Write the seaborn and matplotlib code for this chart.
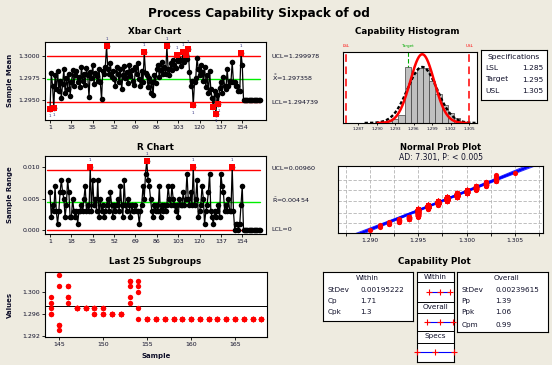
import matplotlib
matplotlib.use("Agg")
import matplotlib.pyplot as plt
import numpy as np
import pandas as pd
import seaborn as sns
from statistics import NormalDist

W, H = 552, 365
BG = "#EEEBE0"
INK = "#10102a"

# ---- values ----
xbar = [
    1.2940, 1.2981, 1.2966, 1.2941, 1.2978, 1.2962, 1.2983, 1.2960, 1.2972, 1.2952,
    1.2968, 1.2985, 1.2958, 1.2975, 1.2963, 1.2980, 1.2955, 1.2970, 1.2984, 1.2966,
    1.2978, 1.2983, 1.2970, 1.2976, 1.2965, 1.2988, 1.2972, 1.2980, 1.2967, 1.2986,
    1.2978, 1.2953, 1.2982, 1.2975, 1.2990, 1.2968, 1.2981, 1.2977, 1.2972, 1.2985,
    1.2970, 1.2951, 1.2983, 1.2979, 1.2988, 1.3011, 1.2985, 1.2980, 1.2992, 1.2976,
    1.2983, 1.2974, 1.2966, 1.2987, 1.2979, 1.2971, 1.2985, 1.2962, 1.2978, 1.2989,
    1.2975, 1.2982, 1.2969, 1.2990, 1.2977, 1.2984, 1.2972, 1.2967, 1.2987, 1.2980,
    1.2992, 1.2974, 1.2966, 1.2983, 1.2970, 1.3004, 1.2981, 1.2978, 1.2965, 1.2975,
    1.2958, 1.2971, 1.2956, 1.2978, 1.2969, 1.2985, 1.2990, 1.2976, 1.2984, 1.2993,
    1.2980, 1.2987, 1.2979, 1.3011, 1.2985, 1.2978, 1.2992, 1.2984, 1.2996, 1.2990,
    1.2986, 1.3001, 1.2994, 1.2997, 1.2989, 1.2995, 1.3004, 1.2993, 1.3001, 1.2997,
    1.3008, 1.2982, 1.2966, 1.2972, 1.2944, 1.2970, 1.2975, 1.2998, 1.2985, 1.2978,
    1.2990, 1.2982, 1.2972, 1.2987, 1.2965, 1.2978, 1.2958, 1.2983, 1.2962, 1.2952,
    1.2942, 1.2960, 1.2934, 1.2956, 1.2946, 1.2964, 1.2970, 1.2958, 1.2976, 1.2966,
    1.2962, 1.2985, 1.2966, 1.2972, 1.2970, 1.2993, 1.2970, 1.2970, 1.2966, 1.2966,
    1.2960, 1.2960, 1.3003, 1.2990, 1.2950, 1.2950, 1.2950, 1.2950, 1.2950, 1.2950,
    1.2950, 1.2950, 1.2950, 1.2950, 1.2950, 1.2950, 1.2950, 1.2950,
]
ranges = [
    0.006, 0.002, 0.004, 0.003, 0.007, 0.003, 0.001, 0.003, 0.006, 0.008,
    0.006, 0.005, 0.002, 0.004, 0.008, 0.006, 0.002, 0.002, 0.005, 0.003,
    0.002, 0.003, 0.001, 0.003, 0.003, 0.004, 0.003, 0.005, 0.007, 0.003,
    0.004, 0.003, 0.010, 0.003, 0.008, 0.004, 0.005, 0.003, 0.008, 0.002,
    0.005, 0.003, 0.004, 0.002, 0.003, 0.004, 0.005, 0.003, 0.006, 0.004,
    0.002, 0.004, 0.003, 0.004, 0.005, 0.003, 0.007, 0.004, 0.002, 0.008,
    0.004, 0.003, 0.005, 0.004, 0.002, 0.004, 0.003, 0.003, 0.004, 0.003,
    0.003, 0.001, 0.003, 0.004, 0.007, 0.005, 0.009, 0.011, 0.008, 0.007,
    0.005, 0.003, 0.002, 0.004, 0.003, 0.004, 0.003, 0.007, 0.002, 0.004,
    0.003, 0.004, 0.003, 0.004, 0.007, 0.005, 0.004, 0.007, 0.005, 0.004,
    0.003, 0.004, 0.002, 0.005, 0.004, 0.004, 0.006, 0.004, 0.005, 0.009,
    0.005, 0.004, 0.006, 0.004, 0.010, 0.004, 0.005, 0.008, 0.002, 0.003,
    0.004, 0.007, 0.005, 0.001, 0.003, 0.004, 0.006, 0.009, 0.003, 0.002,
    0.001, 0.003, 0.002, 0.003, 0.004, 0.002, 0.009, 0.007, 0.006, 0.003,
    0.004, 0.003, 0.005, 0.003, 0.003, 0.010, 0.003, 0.000, 0.001, 0.001,
    0.000, 0.001, 0.004, 0.007, 0.000, 0.000, 0.000, 0.000, 0.000, 0.000,
    0.000, 0.000, 0.000, 0.000, 0.000, 0.000, 0.000, 0.000,
]
subgroups = np.arange(1, len(xbar) + 1)

XBAR_UCL, XBAR_CL, XBAR_LCL = 1.299978, 1.297358, 1.294739
R_UCL, R_CL, R_LCL = 0.00960, 0.00454, 0.0

LSL, TARGET, USL = 1.285, 1.295, 1.305
MEAN = 1.297358
SD_WITHIN, SD_OVERALL = 0.00195222, 0.00239615
CP, CPK = 1.71, 1.3
PP, PPK, CPM = 1.39, 1.06, 0.99
AD, P_TEXT = 7.301, "< 0.005"

# individual measurements, grouped by value (histogram / probability plot)
hist_values = [1.290, 1.291, 1.292, 1.293, 1.294, 1.295, 1.296, 1.297,
               1.298, 1.299, 1.300, 1.301, 1.302, 1.303, 1.305]
hist_counts = [1, 3, 5, 10, 18, 129, 115, 126, 126, 97, 67, 42, 23, 11, 1]

last25 = {
    144: [1.299, 1.298, 1.297, 1.296, 1.296],
    145: [1.303, 1.301, 1.294, 1.293, 1.294],
    146: [1.301, 1.299, 1.298, 1.299, 1.301],
    147: [1.297] * 5,
    148: [1.297] * 5,
    149: [1.297, 1.296, 1.297, 1.296, 1.297],
    150: [1.297, 1.296, 1.296, 1.297, 1.296],
    151: [1.296] * 5,
    152: [1.296] * 5,
    153: [1.302, 1.301, 1.299, 1.298, 1.302],
    154: [1.302, 1.301, 1.300, 1.297, 1.295],
}
for k in range(155, 169):
    last25[k] = [1.295] * 5

sns.set_theme(style="white")
plt.rcParams["font.family"] = ["DejaVu Sans"]
plt.rcParams["axes.edgecolor"] = "black"
plt.rcParams["axes.linewidth"] = 0.8

fig = plt.figure(figsize=(W / 100, H / 100), dpi=100, facecolor=BG)


def px_axes(x0, y0, x1, y1):
    return fig.add_axes([x0 / W, 1 - y1 / H, (x1 - x0) / W, (y1 - y0) / H])


def ftext(x, y, s, **kw):
    kw.setdefault("color", INK)
    kw.setdefault("va", "center")
    fig.text(x / W, 1 - y / H, s, **kw)


def style_ticks(ax, size=4.5):
    ax.tick_params(bottom=True, left=True, labelsize=size, length=2.2, width=0.6,
                   pad=1.2, colors="black", labelcolor=INK)
    ax.set_xlabel("")
    ax.set_ylabel("")


def control_series(ax, df, col):
    sns.lineplot(data=df, x="subgroup", y=col, ax=ax, color="black", lw=0.9,
                 errorbar=None, zorder=2)
    sns.scatterplot(data=df, x="subgroup", y=col, ax=ax, color="black", s=16,
                    linewidth=0, zorder=3, legend=False)


def mark_ooc(ax, df, col, ucl, lcl):
    ooc = df[(df[col] > ucl) | (df[col] < lcl)]
    sns.scatterplot(data=ooc, x="subgroup", y=col, marker="s", color="red", s=18,
                    linewidth=0, zorder=4, ax=ax, legend=False)
    for _, row in ooc.iterrows():
        off = 5.2 if row[col] > ucl else -5.2
        ax.annotate("1", (row["subgroup"], row[col]), xytext=(0, off),
                    textcoords="offset points", fontsize=3, color="#303080",
                    ha="center", va="center", annotation_clip=False)


# ---- title ----
ftext(259, 14, "Process Capability Sixpack of od", ha="center", fontsize=8.7,
      fontweight="bold", color="black")

xticks = np.arange(1, 155, 17)

# ---- Xbar chart ----
ax = px_axes(44.5, 42, 266, 120)
xb = pd.DataFrame({"subgroup": subgroups, "mean": xbar})
for y, c in [(XBAR_UCL, "red"), (XBAR_CL, "#00ee00"), (XBAR_LCL, "red")]:
    ax.axhline(y, xmin=0.01, xmax=0.975, color=c, lw=1.0, zorder=1)
control_series(ax, xb, "mean")
mark_ooc(ax, xb, "mean", XBAR_UCL, XBAR_LCL)
ax.set_xlim(-3.4, 172.9)
ax.set_ylim(1.29273, 1.30159)
ax.set_xticks(xticks)
ax.set_yticks([1.2950, 1.2975, 1.3000])
ax.set_yticklabels([f"{v:.4f}" for v in [1.2950, 1.2975, 1.3000]])
style_ticks(ax)
ftext(155, 32, "Xbar Chart", ha="center", fontsize=6.3, fontweight="bold", color="black")
ftext(10, 80, "Sample Mean", ha="center", rotation=90, fontsize=5, fontweight="bold")
ftext(271.5, 56, f"UCL={XBAR_UCL:.6f}", fontsize=4.6)
ftext(271.5, 78, r"$\bar{\bar{\mathrm{X}}}$" + f"={XBAR_CL:.6f}", fontsize=4.6)
ftext(271.5, 102, f"LCL={XBAR_LCL:.6f}", fontsize=4.6)

# ---- R chart ----
ax = px_axes(44.5, 156, 266, 234)
rc = pd.DataFrame({"subgroup": subgroups, "range": ranges})
for y, c in [(R_UCL, "red"), (R_CL, "#00ee00"), (R_LCL, "red")]:
    ax.axhline(y, xmin=0.01, xmax=0.975, color=c, lw=1.0, zorder=1)
control_series(ax, rc, "range")
mark_ooc(ax, rc, "range", R_UCL, -1)
ax.set_xlim(-3.4, 172.9)
ax.set_ylim(-0.00064, 0.0118)
ax.set_xticks(xticks)
ax.set_yticks([0.0, 0.005, 0.010])
ax.set_yticklabels(["0.000", "0.005", "0.010"])
style_ticks(ax)
ftext(155, 148, "R Chart", ha="center", fontsize=6.3, fontweight="bold", color="black")
ftext(10, 195, "Sample Range", ha="center", rotation=90, fontsize=5, fontweight="bold")
ftext(271.5, 169, f"UCL={R_UCL:.5f}", fontsize=4.6)
ftext(271.5, 200, r"$\bar{\mathrm{R}}$" + f"={R_CL:.5f}", fontsize=4.6)
ftext(271.5, 229.5, "LCL=0", fontsize=4.6)

# ---- Last 25 subgroups ----
ax = px_axes(45, 271.7, 266.7, 337.3)
l25 = pd.DataFrame([(k, v) for k, vs in last25.items() for v in vs],
                   columns=["Sample", "Values"])
ax.axhline(XBAR_CL, color="black", lw=0.7, zorder=1)
sns.scatterplot(data=l25, x="Sample", y="Values", color="red", s=15, linewidth=0,
                ax=ax, zorder=3)
ax.set_xlim(143.37, 168.6)
ax.set_ylim(1.29177, 1.30361)
ax.set_xticks([145, 150, 155, 160, 165])
ax.set_yticks([1.292, 1.296, 1.300])
ax.set_yticklabels(["1.292", "1.296", "1.300"])
style_ticks(ax)
ftext(155, 262, "Last 25 Subgroups", ha="center", fontsize=6.3, fontweight="bold", color="black")
ftext(10, 305, "Values", ha="center", rotation=90, fontsize=5, fontweight="bold")
ftext(156, 356, "Sample", ha="center", fontsize=5, fontweight="bold")

# ---- Capability histogram ----
ax = px_axes(342.5, 52, 477, 123)
hist_df = pd.DataFrame({"value": hist_values, "count": hist_counts})
edges = [round(1.2895 + 0.001 * i, 4) for i in range(17)]
ax.axvline(TARGET, color="#00aa00", lw=0.8, ls=(0, (4, 2)), zorder=1)
sns.histplot(data=hist_df, x="value", weights="count", bins=edges, stat="density",
             color="#c0c0c0", edgecolor="#404040", linewidth=0.5, alpha=1,
             ax=ax, zorder=2)
xs_w = np.linspace(MEAN - 3.7 * SD_WITHIN, MEAN + 3.7 * SD_WITHIN, 200)
xs_o = np.linspace(1.2880, 1.3060, 200)
pdf_w = np.exp(-0.5 * ((xs_w - MEAN) / SD_WITHIN) ** 2) / (SD_WITHIN * np.sqrt(2 * np.pi))
pdf_o = np.exp(-0.5 * ((xs_o - MEAN) / SD_OVERALL) ** 2) / (SD_OVERALL * np.sqrt(2 * np.pi))
ax.plot(xs_o, pdf_o, color="black", lw=1.7, ls=(0, (1.4, 0.9)), zorder=3)
ax.plot(xs_w, pdf_w, color="red", lw=1.8, zorder=4)
ax.axvline(LSL, color="red", lw=1.1, ls=(0, (5, 3)), zorder=5)
ax.axvline(USL, color="red", lw=1.1, ls=(0, (5, 3)), zorder=5)
trans = ax.get_xaxis_transform()
for x, s, c in [(LSL, "LSL", "red"), (TARGET, "Target", "#00aa00"), (USL, "USL", "red")]:
    ax.text(x, 1.09, s, transform=trans, ha="center", va="center", fontsize=3, color=c)
ax.set_xlim(1.28441, 1.30625)
ax.set_ylim(0, 211)
hticks = np.round(np.arange(1.287, 1.3051, 0.003), 3)
ax.set_xticks(hticks)
ax.set_xticklabels([f"{v:.3f}" for v in hticks])
ax.set_yticks([])
style_ticks(ax, size=3)
ax.tick_params(left=False, length=1.5)
ftext(407.5, 32, "Capability Histogram", ha="center", fontsize=6.3, fontweight="bold", color="black")

# specifications box
ax = px_axes(480.7, 50, 547.3, 100)
ax.set_xticks([])
ax.set_yticks([])
ftext(514, 57.5, "Specifications", ha="center", fontsize=5.4)
for y, name, val in [(68.5, "LSL", LSL), (79.5, "Target", TARGET), (90.7, "USL", USL)]:
    ftext(485.5, y, name, fontsize=5.4)
    ftext(543, y, f"{val:.3f}", ha="right", fontsize=5.4)

# ---- Normal probability plot ----
ax = px_axes(338, 166, 543, 233)
n = int(sum(hist_counts))
vals = np.repeat(hist_values, hist_counts)
zs = np.array([NormalDist().inv_cdf((i - 0.3) / (n + 0.4)) for i in range(1, n + 1)])
zz = np.linspace(-4.0, 4.2, 80)
xx = MEAN + SD_OVERALL * zz
se = SD_OVERALL * np.sqrt(1 / n + zz ** 2 / (2 * (n - 1)))
ax.plot(xx - 1.96 * se, zz, color="#3030ff", lw=0.7, zorder=2)
ax.plot(xx + 1.96 * se, zz, color="#3030ff", lw=0.7, zorder=2)
ax.plot(xx, zz, color="blue", lw=1.8, zorder=2)
sns.scatterplot(x=vals, y=zs, color="red", s=14, linewidth=0, ax=ax, zorder=3)
ax.set_xlim(1.28669, 1.30790)
ax.set_ylim(-3.45, 3.85)
gx = np.round(np.arange(1.2875, 1.3076, 0.0025), 4)
ax.set_xticks(gx)
ax.set_xticklabels([f"{v:.3f}" if abs(v * 200 - round(v * 200)) < 1e-6 else "" for v in gx])
ax.set_yticks([NormalDist().inv_cdf(p) for p in [0.01, 0.1, 0.5, 0.9, 0.99]])
ax.set_yticklabels([])
ax.grid(True, color="#b4b4b4", ls=(0, (4, 2)), lw=0.6)
style_ticks(ax, size=4.3)
ax.tick_params(left=False)
ftext(441, 147.5, "Normal Prob Plot", ha="center", fontsize=6.0, fontweight="bold", color="black")
ftext(441, 157.5, f"AD: {AD:.3f}, P: {P_TEXT}", ha="center", fontsize=5.6)

# ---- Capability plot ----
ftext(434, 262, "Capability Plot", ha="center", fontsize=6.3, fontweight="bold", color="black")

ax = px_axes(323.3, 271.7, 413.3, 321)
ax.set_xticks([])
ax.set_yticks([])
ftext(367.5, 277.5, "Within", ha="center", fontsize=5.2)
for y, name, val in [(290, "StDev", f"{SD_WITHIN:.8f}"), (300.7, "Cp", f"{CP:.2f}"),
                     (312.3, "Cpk", f"{CPK:g}")]:
    ftext(328, y, name, fontsize=5.2)
    ftext(360.5, y, val, fontsize=5.2)

ax = px_axes(457.3, 271.7, 548.3, 331.7)
ax.set_xticks([])
ax.set_yticks([])
ftext(506.5, 277.5, "Overall", ha="center", fontsize=5.2)
for y, name, val in [(290, "StDev", f"{SD_OVERALL:.8f}"), (300.7, "Pp", f"{PP:.2f}"),
                     (312.3, "Ppk", f"{PPK:.2f}"), (325, "Cpm", f"{CPM:.2f}")]:
    ftext(461.5, y, name, fontsize=5.2)
    ftext(495, y, val, fontsize=5.2)

ax = px_axes(416.7, 271.7, 454, 361.7)
ax.set_xlim(LSL - 0.0002, USL + 0.0002)
ax.set_ylim(361.7, 271.7)
ax.set_xticks([])
ax.set_yticks([])
for y in [282.3, 301.7, 313.3, 330.7, 342.7]:
    ax.axhline(y, color="black", lw=0.7)
intervals = [
    ("Within", 276.8, 291.7, [MEAN - 3 * SD_WITHIN, MEAN, MEAN + 3 * SD_WITHIN]),
    ("Overall", 307.0, 321.7, [MEAN - 3 * SD_OVERALL, MEAN, MEAN + 3 * SD_OVERALL]),
    ("Specs", 336.5, 351.7, [LSL, TARGET, USL]),
]
for label, ty, ly, xs in intervals:
    ax.text(TARGET, ty, label, ha="center", va="center", fontsize=5.2, color=INK)
    ax.plot(xs, [ly] * 3, color="blue", lw=0.8, zorder=2)
    ax.plot(xs, [ly] * 3, ls="none", marker="+", color="red", ms=4, mew=0.8,
            zorder=3, clip_on=False)

fig.savefig("out.png", dpi=100, facecolor=BG)
